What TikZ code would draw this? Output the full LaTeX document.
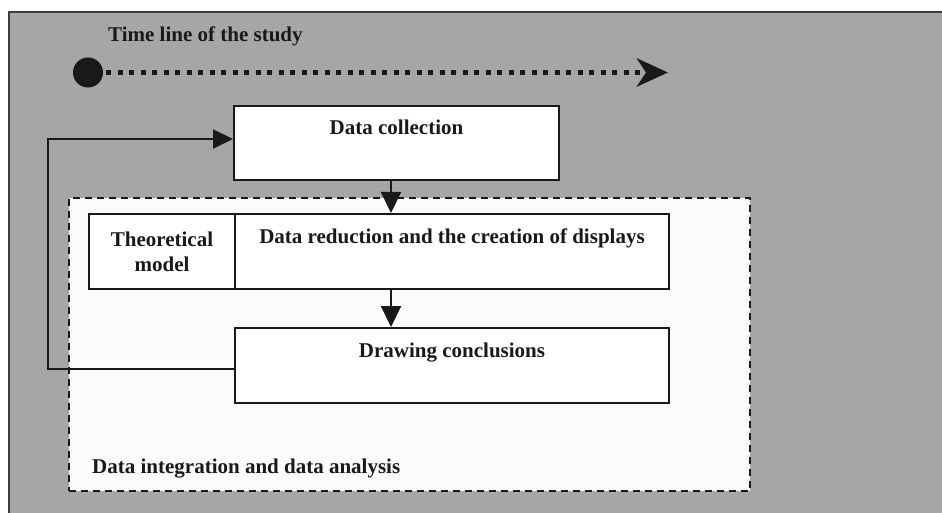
\documentclass[tikz,border=0pt]{standalone}
\usepackage{fontspec}
\setmainfont{Liberation Serif}
\usetikzlibrary{arrows.meta,calc}

\definecolor{panelgray}{RGB}{166,166,166}
\definecolor{framegray}{RGB}{60,60,60}
\definecolor{inkblack}{RGB}{25,25,25}
\definecolor{areawhite}{RGB}{251,251,251}

\tikzset{
  lbl/.style={font=\fontsize{21}{25}\selectfont\bfseries, text=inkblack, inner sep=0pt},
  stepbox/.style={draw=inkblack, line width=2pt, fill=white, inner sep=0pt},
  flow/.style={draw=inkblack, line width=2pt, -{Triangle[length=21pt,width=20pt]}},
  feedback/.style={draw=inkblack, line width=2pt, -{Triangle[length=20pt,width=19pt]}},
  analysisarea/.style={draw=inkblack, line width=2pt, dash pattern=on 7pt off 5pt, fill=areawhite, inner sep=0pt},
}

\begin{document}
\begin{tikzpicture}[x=1pt, y=-1pt]
\useasboundingbox (0,0) rectangle (942,513);

% grey panel with its top and left frame lines
\fill[white] (0,0) rectangle (942,513);
\fill[panelgray] (9,12) rectangle (942,513);
\draw[framegray, line width=2pt] (942,12) -- (9,12) -- (9,513);

% time line
\node[lbl, anchor=base west] (ttl) at (108,42) {Time line of the study};
\node[circle, fill=inkblack, minimum size=30pt, inner sep=0pt] (tstart) at (88,72.5) {};
\coordinate (tend) at (668,72.5);
\draw[inkblack, line width=5.5pt, dash pattern=on 5pt off 6.5pt,
      -{Stealth[length=31pt,width=28pt,inset=9pt]}]
  ([xshift=3pt]tstart.east) -- (tend);

% data integration and analysis area
\node[analysisarea, anchor=north west, minimum width=681pt, minimum height=293pt] (area) at (68,197) {};
\node[lbl, anchor=base west] (arealbl) at (92,473) {Data integration and data analysis};

% process boxes
\node[stepbox, anchor=north west, minimum width=325pt, minimum height=74pt] (collect) at (233,105) {};
\node[lbl, anchor=base] (collecttxt) at ($(collect.north)+(0,30)$) {Data collection};

\node[stepbox, lbl, anchor=north west, minimum width=146pt, minimum height=75pt, align=center] (theory) at (88,213) {Theoretical\\model};

\node[stepbox, anchor=north west, minimum width=434pt, minimum height=75pt] (reduce) at (234,213) {};
\node[lbl, anchor=base] (reducetxt) at ($(reduce.north)+(0,30)$) {Data reduction and the creation of displays};

\node[stepbox, anchor=north west, minimum width=434pt, minimum height=75pt] (conclude) at (234,327) {};
\node[lbl, anchor=base] (concludetxt) at ($(conclude.north)+(0,30)$) {Drawing conclusions};

% connectors
\coordinate (axis) at (391,0);
\draw[flow] (axis |- collect.south) -- (axis |- reduce.north);
\draw[flow] (axis |- reduce.south) -- (axis |- conclude.north);

\coordinate (bend) at (48,139);
\draw[feedback] ([yshift=-3.5pt]conclude.west) -| (bend) -- (bend -| collect.west);
\end{tikzpicture}
\end{document}
